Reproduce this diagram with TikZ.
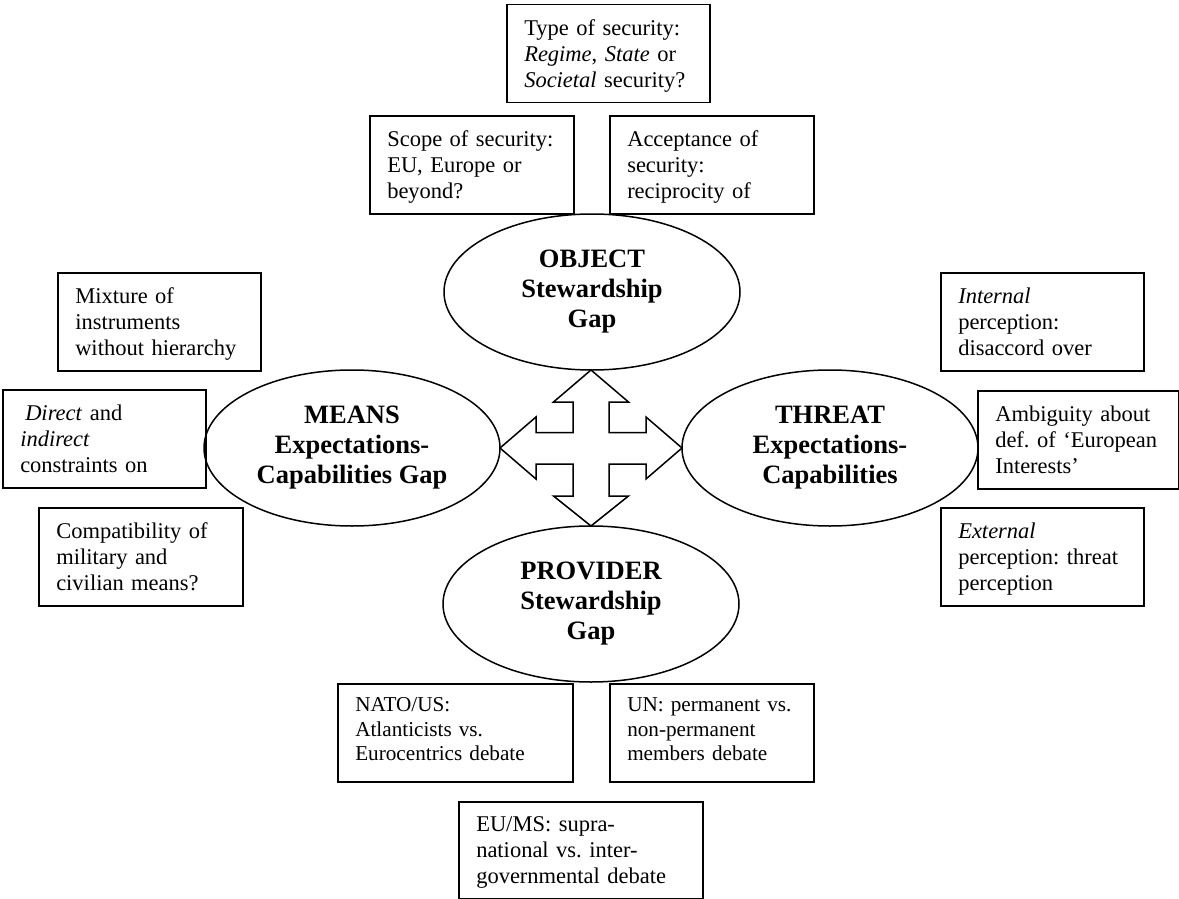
\documentclass[tikz,border=0pt]{standalone}
\usepackage{fontspec}
\setmainfont{Liberation Serif}
\usetikzlibrary{shapes.geometric}
\frenchspacing
\newcommand\gbfont{\fontsize{22.5}{26}\selectfont\frenchspacing}
\newcommand\gbsmall{\fontsize{21.2}{24.5}\selectfont\frenchspacing}
\newcommand\gellfont{\fontsize{26.5}{30}\selectfont\bfseries}
\tikzset{
  gapbox/.style={draw, line width=1.5pt, shape=rectangle, anchor=north west,
    inner xsep=17.5pt, inner ysep=0pt, align=left, font=\gbfont,
    text height=31pt, text depth=67pt},
  gapell/.style={draw, line width=1.5pt, shape=ellipse, inner sep=0pt,
    minimum width=296pt, minimum height=156pt, align=center, font=\gellfont},
  crossarrow/.style={draw, line width=1.5pt, line join=miter, fill=white}
}
\begin{document}
\begin{tikzpicture}[x=1pt,y=-1pt]
\useasboundingbox (0,0) rectangle (1179,899);
% ellipses
\node[gapell] (object)   at (592,292) {OBJECT\\Stewardship\\Gap};
\node[gapell] (means)    at (352,448) {MEANS\\Expectations-\\Capabilities Gap};
\node[gapell] (threat)   at (830,448) {THREAT\\Expectations-\\Capabilities};
\node[gapell] (provider) at (591,604) {PROVIDER\\Stewardship\\Gap};
% central four-way arrow
\coordinate (c) at (591,448);
\begin{scope}[shift={(c)}]
\draw[crossarrow] (0,-78) -- (37.5,-46) -- (18,-46) -- (18,-15.5) -- (55,-15.5)
  -- (55,-31) -- (91,0) -- (55,31) -- (55,16) -- (18,16) -- (18,48) -- (37.5,48)
  -- (0,78) -- (-37.5,48) -- (-18,48) -- (-18,16) -- (-55,16) -- (-55,31)
  -- (-91,0) -- (-55,-31) -- (-55,-15.5) -- (-18,-15.5) -- (-18,-46)
  -- (-37.5,-46) -- cycle;
\end{scope}
% object boxes
\node[gapbox, text width=168pt] (type) at (506,4)
  {Type of security:\\\textit{Regime}, \textit{State} or\\\textit{Societal} security?};
\node[gapbox, text width=169pt] (scope) at (369,115)
  {Scope of security:\\EU, Europe or\\beyond?};
\node[gapbox, text width=169pt] (accept) at (609,115)
  {Acceptance of\\security:\\reciprocity of};
% means boxes
\node[gapbox, text width=168pt] (mixture) at (57,272)
  {Mixture of\\instruments\\without hierarchy};
\node[gapbox, text width=168pt] (direct) at (2,389)
  {\hspace*{5pt}\textit{Direct} and\\\textit{indirect}\\constraints on};
\node[gapbox, text width=169pt] (compat) at (38,507)
  {Compatibility of\\military and\\civilian means?};
% threat boxes
\node[gapbox, text width=168pt] (internal) at (940,272)
  {\textit{Internal}\\perception:\\disaccord over};
\node[gapbox, text width=166pt] (ambig) at (977,390)
  {Ambiguity about\\def. of ‘European\\Interests’};
\node[gapbox, text width=168pt] (external) at (940,507)
  {\textit{External}\\perception: threat\\perception};
% provider boxes
\node[gapbox, text width=200pt, font=\gbsmall, text height=28pt, text depth=70pt] (nato) at (337,683)
  {NATO/US:\\Atlanticists vs.\\Eurocentrics debate};
\node[gapbox, text width=169pt, font=\gbsmall, text height=28pt, text depth=70pt] (un) at (609,683)
  {UN: permanent vs.\\non-permanent\\members debate};
\node[gapbox, text width=209pt, text height=30pt, text depth=67pt] (eums) at (458,801)
  {EU/MS: supra-\\national vs. inter-\\governmental debate};
\end{tikzpicture}
\end{document}
